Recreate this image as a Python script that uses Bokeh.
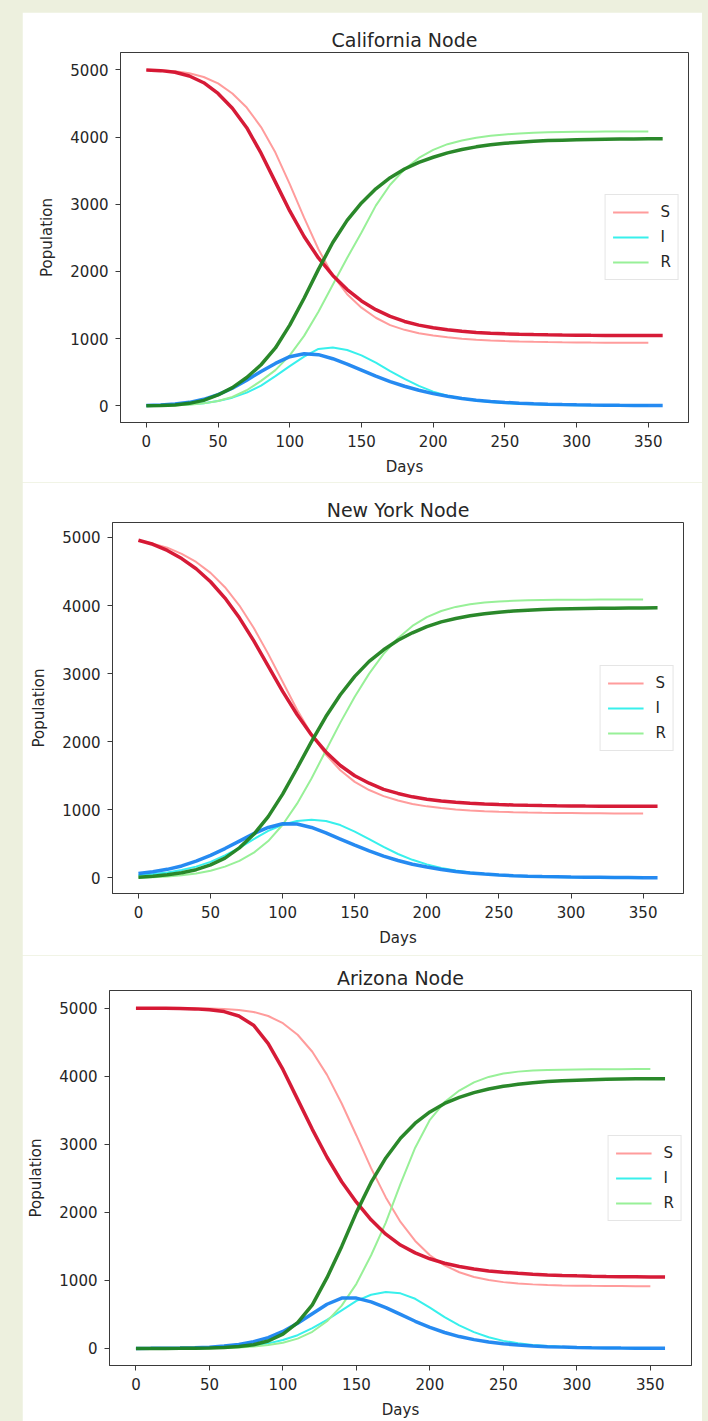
from bokeh.plotting import figure
from bokeh.layouts import column, row
from bokeh.models import Range1d, FixedTicker, Legend, LegendItem
from bokeh.embed import file_html
from bokeh.resources import INLINE

# Sampling grids (days)
DAYS_RUN = list(range(0, 361, 10))   # ensemble runs, 0..360
DAYS_REF = list(range(0, 351, 10))   # reference run, 0..350

X_TICKS = [0, 50, 100, 150, 200, 250, 300, 350]
Y_TICKS = [0, 1000, 2000, 3000, 4000, 5000]

# ---- California node ----
CA_S = [5000, 4990, 4965, 4910, 4810, 4650, 4430, 4140, 3760, 3330, 2900, 2520, 2200,
        1940, 1730, 1560, 1430, 1330, 1255, 1200, 1160, 1130, 1108, 1092, 1080, 1071,
        1064, 1059, 1055, 1052, 1050, 1048, 1047, 1046, 1045, 1045, 1044]
CA_I = [5, 12, 25, 50, 95, 165, 260, 380, 510, 630, 730, 775, 760, 700, 620, 530, 440,
        360, 290, 230, 180, 140, 108, 83, 64, 49, 38, 29, 22, 17, 13, 10, 8, 6, 5, 4, 3]
CA_R = [0, 3, 12, 35, 80, 160, 270, 420, 610, 860, 1200, 1600, 2030, 2430, 2760, 3020,
        3230, 3395, 3525, 3625, 3700, 3765, 3815, 3855, 3885, 3908, 3925, 3938, 3948,
        3955, 3960, 3964, 3967, 3970, 3972, 3974, 3975]
CA_S_REF = [5000, 4995, 4980, 4950, 4895, 4800, 4650, 4440, 4150, 3770, 3300, 2800, 2330,
            1940, 1660, 1460, 1310, 1200, 1130, 1080, 1045, 1018, 998, 983, 972, 963,
            956, 951, 947, 944, 942, 940, 939, 938, 937, 937]
CA_I_REF = [2, 5, 10, 20, 38, 70, 120, 195, 300, 440, 590, 730, 845, 868, 830, 750, 640,
            515, 400, 295, 210, 150, 106, 76, 54, 39, 28, 20, 15, 11, 8, 6, 5, 4, 3, 2]
CA_R_REF = [0, 2, 6, 15, 35, 70, 130, 230, 370, 530, 750, 1040, 1400, 1800, 2200, 2580,
            2980, 3290, 3520, 3690, 3810, 3895, 3950, 3990, 4020, 4040, 4054, 4064, 4071,
            4076, 4079, 4081, 4083, 4084, 4085, 4085]

# ---- New York node ----
NY_S = [4960, 4900, 4810, 4690, 4540, 4350, 4110, 3820, 3480, 3110, 2740, 2400, 2100,
        1850, 1650, 1500, 1390, 1300, 1240, 1190, 1155, 1130, 1110, 1095, 1085, 1077,
        1070, 1065, 1061, 1058, 1056, 1054, 1053, 1052, 1051, 1050, 1050]
NY_I = [65, 90, 125, 175, 245, 330, 430, 540, 650, 740, 795, 790, 740, 660, 570, 480, 395,
        320, 255, 200, 158, 122, 94, 72, 55, 42, 32, 25, 19, 15, 11, 9, 7, 5, 4, 3, 3]
NY_R = [10, 25, 45, 75, 120, 190, 290, 440, 640, 900, 1230, 1610, 2000, 2370, 2690, 2960,
        3180, 3350, 3490, 3600, 3690, 3760, 3810, 3850, 3880, 3903, 3920, 3932, 3941,
        3948, 3953, 3957, 3960, 3962, 3964, 3965, 3966]
NY_S_REF = [4950, 4910, 4850, 4760, 4640, 4480, 4270, 4000, 3670, 3290, 2880, 2470, 2110,
            1810, 1580, 1410, 1290, 1200, 1135, 1085, 1050, 1025, 1005, 990, 979, 971,
            965, 960, 956, 953, 951, 949, 948, 947, 946, 946]
NY_I_REF = [40, 55, 80, 115, 165, 235, 330, 440, 570, 690, 780, 835, 855, 835, 775, 680,
            570, 455, 350, 265, 198, 146, 107, 78, 57, 42, 31, 23, 17, 13, 10, 7, 5, 4, 3, 3]
NY_R_REF = [0, 8, 20, 38, 65, 105, 165, 250, 370, 540, 780, 1090, 1460, 1870, 2280, 2660,
            3000, 3290, 3520, 3700, 3830, 3920, 3980, 4020, 4045, 4060, 4070, 4077, 4081,
            4084, 4086, 4087, 4088, 4089, 4089, 4090]

# ---- Arizona node ----
AZ_S = [5000, 5000, 4998, 4995, 4990, 4978, 4950, 4885, 4750, 4480, 4100, 3660, 3220,
        2810, 2450, 2150, 1890, 1680, 1520, 1405, 1318, 1252, 1204, 1168, 1140, 1120,
        1104, 1091, 1081, 1073, 1067, 1062, 1058, 1055, 1053, 1051, 1050]
AZ_I = [1, 2, 4, 7, 12, 20, 35, 60, 100, 160, 250, 370, 510, 650, 740, 740, 685, 600,
        500, 400, 310, 235, 175, 130, 96, 70, 51, 37, 27, 20, 15, 11, 8, 6, 5, 4, 3]
AZ_R = [0, 0, 1, 2, 4, 8, 15, 28, 55, 110, 210, 380, 640, 1040, 1500, 2000, 2440, 2800,
        3090, 3310, 3475, 3600, 3690, 3760, 3812, 3852, 3882, 3905, 3922, 3934, 3943,
        3950, 3955, 3959, 3962, 3964, 3965]
AZ_S_REF = [5000, 5000, 5000, 4999, 4998, 4995, 4988, 4975, 4945, 4885, 4780, 4610, 4360,
            4020, 3600, 3130, 2650, 2220, 1860, 1580, 1370, 1220, 1120, 1050, 1005, 975,
            955, 942, 933, 927, 923, 920, 918, 917, 916, 916]
AZ_I_REF = [0, 1, 2, 3, 5, 8, 14, 24, 45, 75, 125, 195, 300, 420, 560, 700, 790, 830,
            810, 730, 600, 460, 340, 240, 165, 112, 76, 51, 35, 24, 17, 12, 8, 6, 4, 3]
AZ_R_REF = [0, 0, 1, 2, 3, 5, 9, 16, 28, 50, 85, 145, 245, 400, 630, 950, 1370, 1850,
            2420, 2950, 3360, 3620, 3790, 3910, 3990, 4040, 4068, 4083, 4092, 4097, 4100,
            4102, 4103, 4104, 4105, 4105]

# Colours
RUN_COLORS = {"S": "#d40f2c", "I": "#1a84f0", "R": "#1f821f"}
REF_COLORS = {"S": "#ff9c9c", "I": "#38f0ec", "R": "#98f098"}
PAGE_BG = "#edf0de"
FONT = "DejaVu Sans"
TEXT = "#262626"


def make_panel(title, y_lo, y_hi, run, ref, height, borders, top_margin):
    left, right, top, bottom = borders
    p = figure(width=680, height=height,
               x_range=Range1d(-18, 378), y_range=Range1d(y_lo, y_hi),
               output_backend="svg", toolbar_location=None,
               min_border_left=left, min_border_right=right,
               min_border_top=top, min_border_bottom=bottom,
               background_fill_color="white", border_fill_color="white")
    p.margin = (top_margin, 6, 0, 22)

    p.title.text = title
    p.title.align = "center"
    p.title.text_font = FONT
    p.title.text_font_size = "19px"
    p.title.text_font_style = "normal"
    p.title.text_color = TEXT
    p.title.standoff = 4

    p.xgrid.visible = False
    p.ygrid.visible = False
    p.outline_line_color = "#3a3a3a"
    p.outline_line_width = 1
    p.outline_line_alpha = 1

    p.xaxis.ticker = FixedTicker(ticks=X_TICKS)
    p.yaxis.ticker = FixedTicker(ticks=Y_TICKS)
    p.xaxis.axis_label = "Days"
    p.yaxis.axis_label = "Population"
    for ax in (p.xaxis[0], p.yaxis[0]):
        ax.axis_line_color = "#3a3a3a"
        ax.major_tick_line_color = "#3a3a3a"
        ax.major_tick_in = 0
        ax.major_tick_out = 5
        ax.minor_tick_line_color = None
        ax.major_label_text_font = FONT
        ax.major_label_text_font_size = "15px"
        ax.major_label_text_color = TEXT
        ax.axis_label_text_font = FONT
        ax.axis_label_text_font_size = "15px"
        ax.axis_label_text_font_style = "normal"
        ax.axis_label_text_color = TEXT
        ax.major_label_standoff = 7
        ax.axis_label_standoff = 8
    p.yaxis[0].major_label_orientation = "horizontal"
    p.yaxis[0].axis_label_standoff = 11

    s_run, i_run, r_run = run
    s_ref, i_ref, r_ref = ref

    # reference run (thin, light) underneath the ensemble curves
    rs = p.line(DAYS_REF, s_ref, line_color=REF_COLORS["S"], line_width=2)
    ri = p.line(DAYS_REF, i_ref, line_color=REF_COLORS["I"], line_width=2)
    rr = p.line(DAYS_REF, r_ref, line_color=REF_COLORS["R"], line_width=2)

    p.line(DAYS_RUN, s_run, line_color=RUN_COLORS["S"], line_width=3.5, line_alpha=0.95)
    p.line(DAYS_RUN, i_run, line_color=RUN_COLORS["I"], line_width=3.5, line_alpha=0.95)
    p.line(DAYS_RUN, r_run, line_color=RUN_COLORS["R"], line_width=3.5, line_alpha=0.95)

    legend = Legend(items=[LegendItem(label="S", renderers=[rs]),
                           LegendItem(label="I", renderers=[ri]),
                           LegendItem(label="R", renderers=[rr])],
                    location="center_right")
    legend.margin = 9
    legend.padding = 7
    legend.spacing = 5
    legend.glyph_width = 36
    legend.glyph_height = 20
    legend.label_height = 20
    legend.label_width = 10
    legend.label_standoff = 12
    legend.label_text_font = FONT
    legend.label_text_font_size = "15px"
    legend.label_text_color = TEXT
    legend.border_line_color = "#cccccc"
    legend.border_line_width = 1
    legend.background_fill_color = "white"
    legend.background_fill_alpha = 0.85
    p.add_layout(legend)
    return p


p1 = make_panel("California Node", -250, 5260,
                (CA_S, CA_I, CA_R), (CA_S_REF, CA_I_REF, CA_R_REF),
                470, (98, 14, 40, 60), 12)
p2 = make_panel("New York Node", -230, 5220,
                (NY_S, NY_I, NY_R), (NY_S_REF, NY_I_REF, NY_R_REF),
                473, (90, 19, 40, 62), 0)
p3 = make_panel("Arizona Node", -250, 5260,
                (AZ_S, AZ_I, AZ_R), (AZ_S_REF, AZ_I_REF, AZ_R_REF),
                466, (87, 11, 35, 53), 0)

# each panel sits in its own row so the frames keep their own borders
layout = column(row(p1), row(p2), row(p3), spacing=0,
                styles={"background-color": PAGE_BG})

open("out.html", "w").write(file_html(layout, INLINE, title="SIR nodes"))
